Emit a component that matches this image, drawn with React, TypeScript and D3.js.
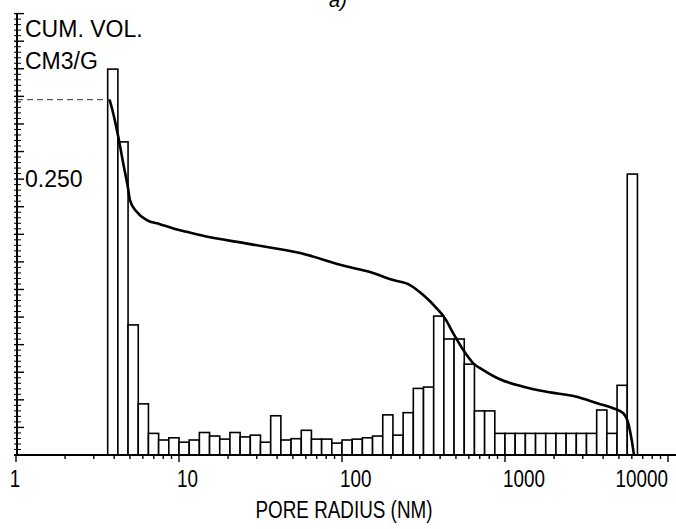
import React from "react";
import * as d3 from "d3";

// Histogram: 16 log-spaced bins per decade, first bin starts at 10^(9/16)
const binsPerDecade = 16;
const firstBinIndex = 9;
const histValues = [
  87.5, 71.0, 29.5, 11.6, 4.9, 3.4, 3.9, 2.9, 3.4, 5.1,
  4.3, 3.6, 5.1, 4.1, 4.5, 2.9, 8.9, 3.4, 3.7, 5.6,
  3.6, 3.6, 2.7, 3.4, 3.6, 3.9, 4.3, 9.1, 4.5, 9.6,
  15.1, 15.4, 31.5, 26.3, 26.3, 20.6, 10.0, 10.0, 4.9, 4.9,
  4.9, 4.9, 4.9, 4.9, 4.9, 4.9, 4.9, 4.9, 10.2, 4.9,
  15.8, 63.7,
];

// Cumulative volume curve
const curveRadius = [
  3.75, 3.95, 4.24, 4.55, 4.89, 5.0, 5.5, 6.34, 7.64, 9.23, 11.15, 13.45,
  27.3, 55.3, 104.3, 148.5, 206.4, 261.4, 315.3, 381, 428.5, 481.7, 554.9,
  639, 736, 931.8, 1295, 1802, 2754, 3721, 4618, 5318, 5706, 5988, 6185,
];
const curveVolume = [
  0.322, 0.3095, 0.2883, 0.2642, 0.24, 0.231, 0.2204, 0.2129, 0.2092, 0.2053,
  0.2023, 0.1993, 0.1911, 0.183, 0.1712, 0.1658, 0.1585, 0.154, 0.1449,
  0.1329, 0.1238, 0.1102, 0.0951, 0.0831, 0.077, 0.0686, 0.0619, 0.0573,
  0.0528, 0.0466, 0.0423, 0.0378, 0.0287, 0.0136, 0,
];

const xLabelValues = [1, 10, 100, 1000, 10000];
const xLabelTexts = ["1", "10", "100", "1000", "10000"];
const yLabelValues = [0.25];
const yLabelTexts = ["0.250"];

const FONT = "'Liberation Sans', Arial, sans-serif";

export default function App() {
  const W = 676;
  const H = 529;
  const x = d3.scaleLog().domain([1, 10000]).range([16, 668]);
  const y = d3.scaleLinear().domain([0, 0.4]).range([455, 13.6]);
  const yH = d3.scaleLinear().domain([0, 100]).range([455, 14]);

  const edges = d3
    .range(histValues.length + 1)
    .map((i) => Math.pow(10, (firstBinIndex + i) / binsPerDecade));

  const pts = curveRadius.map((r, i) => [r, curveVolume[i]] as [number, number]);
  const line = d3
    .line<[number, number]>()
    .x((d) => x(d[0]))
    .y((d) => y(d[1]))
    .curve(d3.curveMonotoneX);

  const yTicks = d3.range(0, 81).map((i) => i * 0.005);
  const xTicks = x.ticks();
  const yAxisX = 17;
  const sx = 0.82; // horizontal squeeze of bottom texts
  const digitW = 23 * 0.556 * sx;

  return (
    <svg
      width={W}
      height={H}
      style={{ position: "absolute", left: 0, top: 0, background: "#fff" }}
      fontFamily={FONT}
    >
      <rect x={0} y={0} width={W} height={H} fill="#fff" />
      <text x={338} y={7} fontSize={20} fontStyle="italic" textAnchor="middle">
        a)
      </text>

      {/* histogram */}
      {histValues.map((v, i) => (
        <rect
          key={i}
          x={x(edges[i])}
          y={yH(v)}
          width={x(edges[i + 1]) - x(edges[i])}
          height={yH(0) - yH(v)}
          fill="#fff"
          stroke="#000"
          strokeWidth={1.6}
        />
      ))}

      {/* dashed line to axis */}
      <line
        x1={yAxisX}
        x2={x(curveRadius[0])}
        y1={y(curveVolume[0])}
        y2={y(curveVolume[0])}
        stroke="#333"
        strokeWidth={1}
        strokeDasharray="6,4"
      />

      {/* cumulative curve */}
      <path d={line(pts) || ""} fill="none" stroke="#000" strokeWidth={2.6} />

      {/* y axis */}
      <line x1={yAxisX} x2={yAxisX} y1={y(0.4)} y2={456} stroke="#000" strokeWidth={2} />
      {yTicks.map((t, i) => {
        const major = i % 5 === 0;
        return (
          <line
            key={i}
            x1={yAxisX - 3}
            x2={yAxisX + (major ? 7 : 4)}
            y1={y(t)}
            y2={y(t)}
            stroke="#000"
            strokeWidth={major ? 1.4 : 1}
          />
        );
      })}
      {yLabelValues.map((v, i) => (
        <text key={i} x={25} y={y(v) + 8.3} fontSize={23}>
          {yLabelTexts[i]}
        </text>
      ))}
      <text x={25} y={37} fontSize={23}>CUM. VOL.</text>
      <text x={25} y={68.5} fontSize={23}>CM3/G</text>

      {/* x axis */}
      <line x1={14} x2={676} y1={455} y2={455} stroke="#000" strokeWidth={2.2} />
      {xTicks.map((t, i) => {
        const major = Math.abs(Math.log10(t) - Math.round(Math.log10(t))) < 1e-9;
        return (
          <line
            key={i}
            x1={x(t)}
            x2={x(t)}
            y1={455}
            y2={major ? 462 : 459}
            stroke="#000"
            strokeWidth={1.4}
          />
        );
      })}
      {xLabelValues.map((v, i) => {
        const last = i === xLabelValues.length - 1;
        const txt = xLabelTexts[i];
        const len = txt.length * digitW;
        const startX = i === 0 ? x(v) - len / 2 - 1 : last ? x(v) - len : x(v) - 2;
        return (
          <text
            key={i}
            transform={`translate(${startX},487) scale(${sx},1)`}
            fontSize={23}
          >
            {txt}
          </text>
        );
      })}
      <text
        transform={`translate(344,518) scale(${sx},1)`}
        fontSize={23}
        textAnchor="middle"
      >
        PORE RADIUS (NM)
      </text>
    </svg>
  );
}
